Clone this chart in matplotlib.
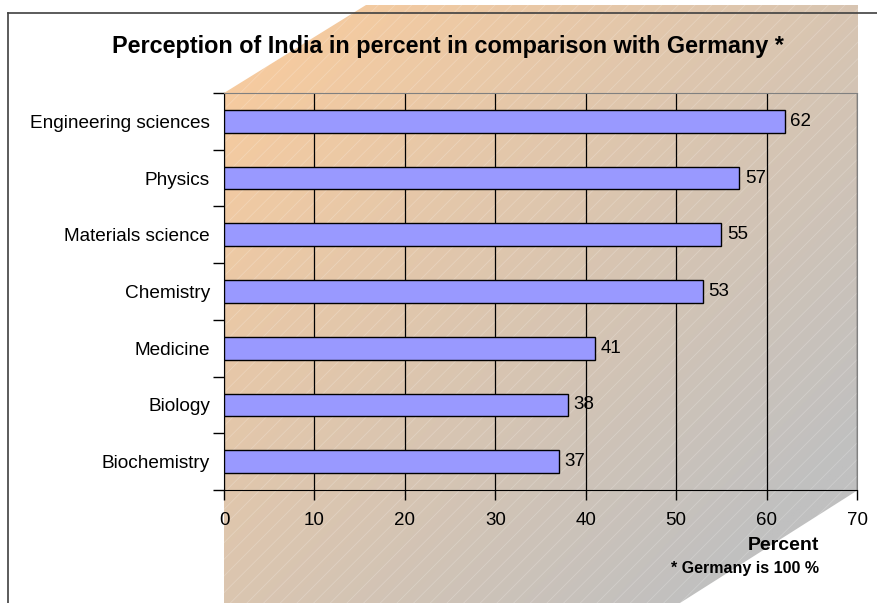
import numpy as np
import matplotlib
matplotlib.use("Agg")
import matplotlib.pyplot as plt
from matplotlib.patches import Polygon
from matplotlib.lines import Line2D

categories = ["Engineering sciences", "Physics", "Materials science", "Chemistry",
              "Medicine", "Biology", "Biochemistry"]
values = [62, 57, 55, 53, 41, 38, 37]
xticks = [0, 10, 20, 30, 40, 50, 60, 70]

plt.rcParams['font.family'] = ['Liberation Sans', 'DejaVu Sans']
plt.rcParams['hatch.color'] = (1, 1, 1, 0.22)
plt.rcParams['hatch.linewidth'] = 0.6

W, H = 877, 603
fig = plt.figure(figsize=(W / 100, H / 100), dpi=100)

# background layer in pixel coords
bg = fig.add_axes([0, 0, 1, 1])
bg.set_xlim(0, W)
bg.set_ylim(H, 0)
bg.axis('off')

poly_pts = [(224, 93), (366, 5), (858, 5), (858, 490), (680, 603), (224, 603)]
ny, nx = 200, 300
yy, xx = np.mgrid[0:1:ny * 1j, 0:1:nx * 1j]
t = np.clip((xx * 0.6 + yy * 0.55) / 1.0, 0, 1)
c0 = np.array([251, 204, 156]) / 255.0
c1 = np.array([192, 192, 192]) / 255.0
img = c0[None, None, :] * (1 - t[..., None]) + c1[None, None, :] * t[..., None]
im = bg.imshow(img, extent=[224, 858, 603, 5], aspect='auto', zorder=0)
clip = Polygon(poly_pts, closed=True, facecolor='none', edgecolor='none', transform=bg.transData)
bg.add_patch(clip)
im.set_clip_path(clip)
hat = Polygon(poly_pts, closed=True, facecolor='none', hatch='//', linewidth=0, zorder=1)
bg.add_patch(hat)

# chart border lines
bg.add_line(Line2D([8, 877], [13, 13], color='#404040', lw=1.2, zorder=2))
bg.add_line(Line2D([8, 8], [13, 603], color='#404040', lw=1.2, zorder=2))

ax = fig.add_axes([224 / W, 1 - 490 / H, (857 - 224) / W, (490 - 93) / H])
ax.patch.set_alpha(0)
y = np.arange(len(categories))
ax.barh(y, values, height=0.4, color='#9999FF', edgecolor='black', linewidth=1.0, zorder=3)
for yi, v in zip(y, values):
    ax.text(v + 0.6, yi, str(v), va='center', ha='left', fontsize=13.5, zorder=4)

ax.set_xlim(0, 70)
ax.set_ylim(len(categories) - 0.5, -0.5)
ax.set_xticks(xticks)
ax.set_xticklabels([str(x) for x in xticks], fontsize=13.5)
ax.set_yticks(y)
ax.set_yticklabels(categories, fontsize=13.7)
ax.set_yticks(np.arange(-0.5, len(categories), 1.0), minor=True)
ax.tick_params(axis='y', which='major', length=0, pad=10)
ax.tick_params(axis='y', which='minor', length=8, direction='out', width=1)
ax.tick_params(axis='x', which='major', length=7, direction='out', width=1, pad=9)
ax.xaxis.grid(True, color='black', lw=0.9, zorder=1)
ax.set_axisbelow(True)
for s in ['top', 'right']:
    ax.spines[s].set_color('#808080')
for s in ['left', 'bottom']:
    ax.spines[s].set_color('black')

fig.text(448 / W, 1 - 47 / H, "Perception of India in percent in comparison with Germany *",
         ha='center', va='center', fontsize=16.8, fontweight='bold')
fig.text(819 / W, 1 - 546 / H, "Percent", ha='right', va='center', fontsize=14, fontweight='bold')
fig.text(819 / W, 1 - 569 / H, "* Germany is 100 %", ha='right', va='center', fontsize=11.5,
         fontweight='bold')

fig.savefig("out.png", dpi=100)
